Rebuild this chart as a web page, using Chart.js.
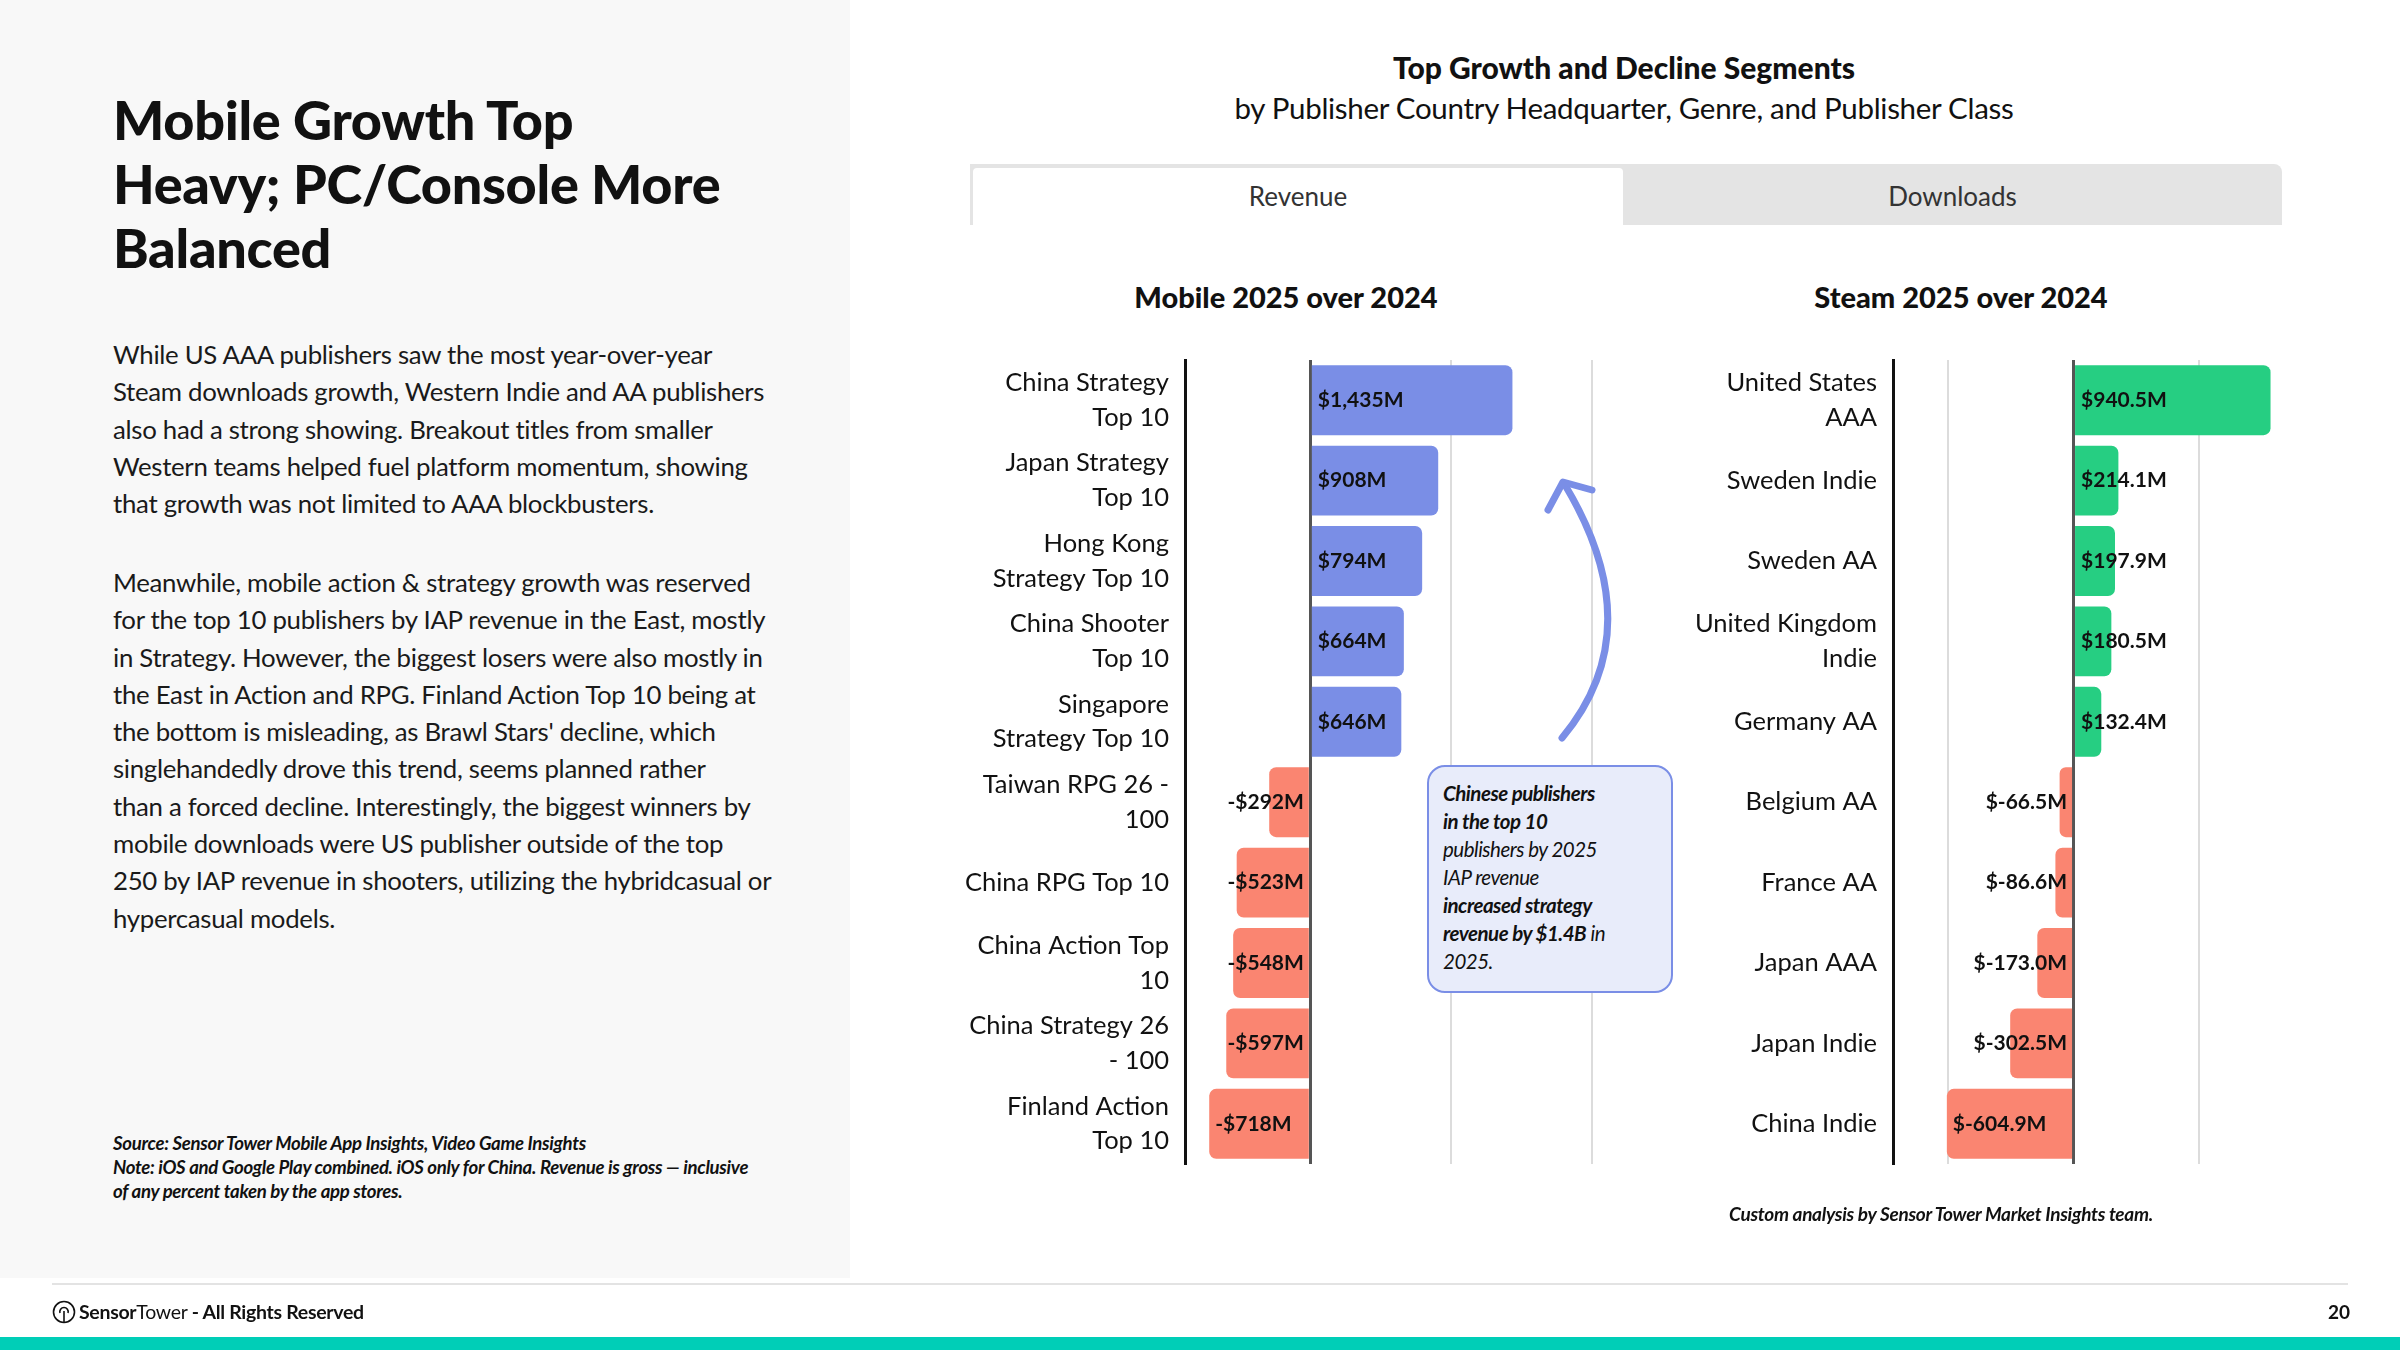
<!DOCTYPE html>
<html>
<head>
<meta charset="utf-8">
<title>Top Growth and Decline Segments</title>
<script src="https://cdn.jsdelivr.net/npm/chart.js@4.4.1/dist/chart.umd.min.js"></script>
<style>
  html, body { margin: 0; padding: 0; background: #fff; }
  #page { position: relative; width: 2400px; height: 1350px; overflow: hidden;
          font-family: Lato, "Noto Sans", sans-serif; color: #111; }
  .abs { position: absolute; }
  #side { left: 0; top: 0; width: 850px; height: 1278px; background: #f8f8f8; }
  #headline { left: 113px; top: 88px; margin: 0; font-size: 54px; line-height: 64px; font-weight: 900; letter-spacing: -0.3px; }
  .para { left: 113px; font-size: 25.8px; line-height: 37.3px; white-space: nowrap; color: #1a1a1a; letter-spacing: -0.3px; }
  #source { left: 113px; top: 1131px; font-size: 18.6px; line-height: 24px; font-style: italic; font-weight: 700; white-space: nowrap; letter-spacing: -0.3px; }
  .ctitle { font-weight: 900; font-size: 30px; text-align: center; white-space: nowrap; }
  #tabs { left: 970px; top: 164px; width: 1312px; height: 61px; background: #e4e4e4; border-radius: 0 8px 0 0; }
  #tabRev { left: 3px; top: 4px; width: 650px; height: 57px; background: #fff; border-radius: 4px 4px 0 0; }
  .tabtxt { font-size: 26px; color: #333; text-align: center; line-height: 57px; }
  canvas { position: absolute; }
  #note { left: 1427px; top: 765px; width: 246px; height: 228px; box-sizing: border-box;
          background: #e8ecfa; border: 2px solid #7a8ee6; border-radius: 18px;
          padding: 12px 6px 0 14px; font-size: 20.5px; line-height: 28px; font-style: italic; color: #111;
          letter-spacing: -0.5px; white-space: nowrap; }
  #custom { left: 1641px; top: 1202px; width: 600px; text-align: center; font-size: 19px; font-weight: 700; font-style: italic; letter-spacing: -0.3px; }
  #rule { left: 52px; top: 1283px; width: 2296px; height: 2px; background: #e3e3e3; }
  #foot { left: 52px; top: 1299px; font-size: 19.5px; line-height: 26px; white-space: nowrap; letter-spacing: -0.3px; }
  #pnum { left: 2300px; top: 1299px; width: 50px; text-align: right; font-size: 19px; font-weight: 700; line-height: 26px; }
  #teal { left: 0; top: 1337px; width: 2400px; height: 13px; background: #00ceb7; }
</style>
</head>
<body>
<div id="page">
  <div id="side" class="abs"></div>
  <h1 id="headline" class="abs">Mobile Growth Top<br>Heavy; PC/Console More<br>Balanced</h1>

  <div class="abs para" style="top:336px">While US AAA publishers saw the most year-over-year<br>Steam downloads growth, Western Indie and AA publishers<br>also had a strong showing. Breakout titles from smaller<br>Western teams helped fuel platform momentum, showing<br>that growth was not limited to AAA blockbusters.</div>
  <div class="abs para" style="top:564px">Meanwhile, mobile action &amp; strategy growth was reserved<br>for the top 10 publishers by IAP revenue in the East, mostly<br>in Strategy. However, the biggest losers were also mostly in<br>the East in Action and RPG. Finland Action Top 10 being at<br>the bottom is misleading, as Brawl Stars' decline, which<br>singlehandedly drove this trend, seems planned rather<br>than a forced decline. Interestingly, the biggest winners by<br>mobile downloads were US publisher outside of the top<br>250 by IAP revenue in shooters, utilizing the hybridcasual or<br>hypercasual models.</div>

  <div id="source" class="abs">Source: Sensor Tower Mobile App Insights, Video Game Insights<br>Note: iOS and Google Play combined. iOS only for China. Revenue is gross — inclusive<br>of any percent taken by the app stores.</div>

  <div class="abs ctitle" style="left:1324px;top:49px;width:600px;">Top Growth and Decline Segments</div>
  <div class="abs" style="left:1224px;top:90px;width:800px;text-align:center;font-size:29.5px;white-space:nowrap;letter-spacing:-0.3px;">by Publisher Country Headquarter, Genre, and Publisher Class</div>

  <div id="tabs" class="abs">
    <div id="tabRev" class="abs"><div class="tabtxt">Revenue</div></div>
    <div class="abs tabtxt" style="left:653px;top:4px;width:659px;">Downloads</div>
  </div>

  <div class="abs ctitle" style="left:1086px;top:279px;width:400px;font-size:29px;">Mobile 2025 over 2024</div>
  <div class="abs ctitle" style="left:1761px;top:279px;width:400px;font-size:29px;">Steam 2025 over 2024</div>

  <canvas id="mobileChart" width="640" height="835" style="left:960px;top:345px;"></canvas>
  <canvas id="steamChart" width="640" height="835" style="left:1660px;top:345px;"></canvas>

  <svg class="abs" style="left:0;top:0;" width="2400" height="1350">
    <path d="M1562 738 Q1652 630 1565 485" fill="none" stroke="#7a8ee6" stroke-width="7" stroke-linecap="round"/>
    <path d="M1548 510 L1563 482 L1592 490" fill="none" stroke="#7a8ee6" stroke-width="7" stroke-linecap="round" stroke-linejoin="round"/>
  </svg>

  <div id="note" class="abs"><b>Chinese publishers<br>in the top 10</b><br>publishers by 2025<br>IAP revenue<br><b>increased strategy<br>revenue by $1.4B</b> in<br>2025.</div>

  <div id="custom" class="abs">Custom analysis by Sensor Tower Market Insights team.</div>

  <div id="rule" class="abs"></div>
  <div id="foot" class="abs">
    <svg width="24" height="24" viewBox="0 0 24 24" style="vertical-align:-5px;margin-right:3px">
      <circle cx="12" cy="12" r="10.5" fill="none" stroke="#111" stroke-width="1.6"/>
      <path d="M8 13 A4.2 4.2 0 1 1 16 13" fill="none" stroke="#111" stroke-width="1.6"/>
      <line x1="12" y1="11" x2="12" y2="22" stroke="#111" stroke-width="1.6"/>
    </svg><b>Sensor</b>Tower <b>- All Rights Reserved</b>
  </div>
  <div id="pnum" class="abs">20</div>
  <div id="teal" class="abs"></div>
</div>

<script>
// categories and values
const mobileCategories = [
  ['China Strategy', 'Top 10'],
  ['Japan Strategy', 'Top 10'],
  ['Hong Kong', 'Strategy Top 10'],
  ['China Shooter', 'Top 10'],
  ['Singapore', 'Strategy Top 10'],
  ['Taiwan RPG 26 -', '100'],
  'China RPG Top 10',
  ['China Action Top', '10'],
  ['China Strategy 26', '- 100'],
  ['Finland Action', 'Top 10']
];
const mobileValues = [1435, 908, 794, 664, 646, -292, -523, -548, -597, -718];
const mobileTicks = [0, 1000, 2000];
const mobileMin = -890;
const mobileMax = 2000;

const steamCategories = [
  ['United States', 'AAA'],
  'Sweden Indie',
  'Sweden AA',
  ['United Kingdom', 'Indie'],
  'Germany AA',
  'Belgium AA',
  'France AA',
  'Japan AAA',
  'Japan Indie',
  'China Indie'
];
const steamValues = [940.5, 214.1, 197.9, 180.5, 132.4, -66.5, -86.6, -173.0, -302.5, -604.9];
const steamTicks = [-600, 0, 600];
const steamMin = -862;
const steamMax = 1000;

const BLUE = '#7a8ee6';
const GREEN = '#26ce82';
const SALMON = '#fa8571';
const FONT = 'Lato, "Noto Sans", sans-serif';

function fmtMobile(v) {
  const s = '$' + Math.abs(v).toLocaleString('en-US') + 'M';
  return v < 0 ? '-' + s : s;
}
function fmtSteam(v) {
  return '$' + v.toFixed(1) + 'M';
}

// value labels: inside the bar when it fits, otherwise just left of the zero line
const valueLabels = {
  id: 'valueLabels',
  afterDatasetsDraw(chart, args, opts) {
    const ctx = chart.ctx;
    const meta = chart.getDatasetMeta(0);
    const vals = chart.data.datasets[0].data;
    ctx.save();
    ctx.font = 'bold 21px ' + FONT;
    ctx.fillStyle = '#111';
    ctx.textBaseline = 'middle';
    meta.data.forEach((bar, i) => {
      const v = vals[i];
      const txt = opts.fmt(v);
      const { x, y, base } = bar.getProps(['x', 'y', 'base'], true);
      const w = ctx.measureText(txt).width;
      if (v >= 0) {
        ctx.textAlign = 'left';
        ctx.fillText(txt, base + 6, y);
      } else if (base - x >= w + 14) {
        ctx.textAlign = 'left';
        ctx.fillText(txt, x + 6, y);
      } else {
        ctx.textAlign = 'right';
        ctx.fillText(txt, base - 5, y);
      }
    });
    ctx.restore();
  }
};

function makeChart(id, cats, vals, ticks, min, max, posColor, fmt, yWidth, padRight) {
  const ctx = document.getElementById(id).getContext('2d');
  return new Chart(ctx, {
    type: 'bar',
    data: {
      labels: cats,
      datasets: [{
        data: vals,
        backgroundColor: vals.map(v => v >= 0 ? posColor : SALMON),
        borderRadius: 7,
        borderSkipped: 'start',
        barPercentage: 0.87,
        categoryPercentage: 1
      }]
    },
    options: {
      indexAxis: 'y',
      responsive: false,
      animation: false,
      layout: { padding: { top: 15, bottom: 16, left: 0, right: padRight } },
      plugins: {
        legend: { display: false },
        tooltip: { enabled: false },
        valueLabels: { fmt: fmt }
      },
      scales: {
        x: {
          min: min,
          max: max,
          afterBuildTicks: axis => { axis.ticks = ticks.map(v => ({ value: v })); },
          afterFit: axis => { axis.height = 0; axis.paddingLeft = 0; axis.paddingRight = 0; },
          ticks: { display: false },
          border: { display: false },
          grid: {
            drawTicks: false,
            color: c => (c.tick && c.tick.value === 0) ? '#555' : '#dcdcdc',
            lineWidth: c => (c.tick && c.tick.value === 0) ? 3 : 2
          }
        },
        y: {
          afterFit: axis => { axis.width = yWidth; axis.paddingTop = 0; axis.paddingBottom = 0; },
          grid: { display: false },
          border: { display: true, color: '#111', width: 3 },
          ticks: {
            color: '#111',
            padding: 8,
            font: { family: FONT, size: 25.5, lineHeight: 1.36 }
          }
        }
      }
    },
    plugins: [valueLabels]
  });
}

makeChart('mobileChart', mobileCategories, mobileValues, mobileTicks, mobileMin, mobileMax, BLUE, fmtMobile, 225, 8);
makeChart('steamChart', steamCategories, steamValues, steamTicks, steamMin, steamMax, GREEN, fmtSteam, 233, 17);
</script>
</body>
</html>
